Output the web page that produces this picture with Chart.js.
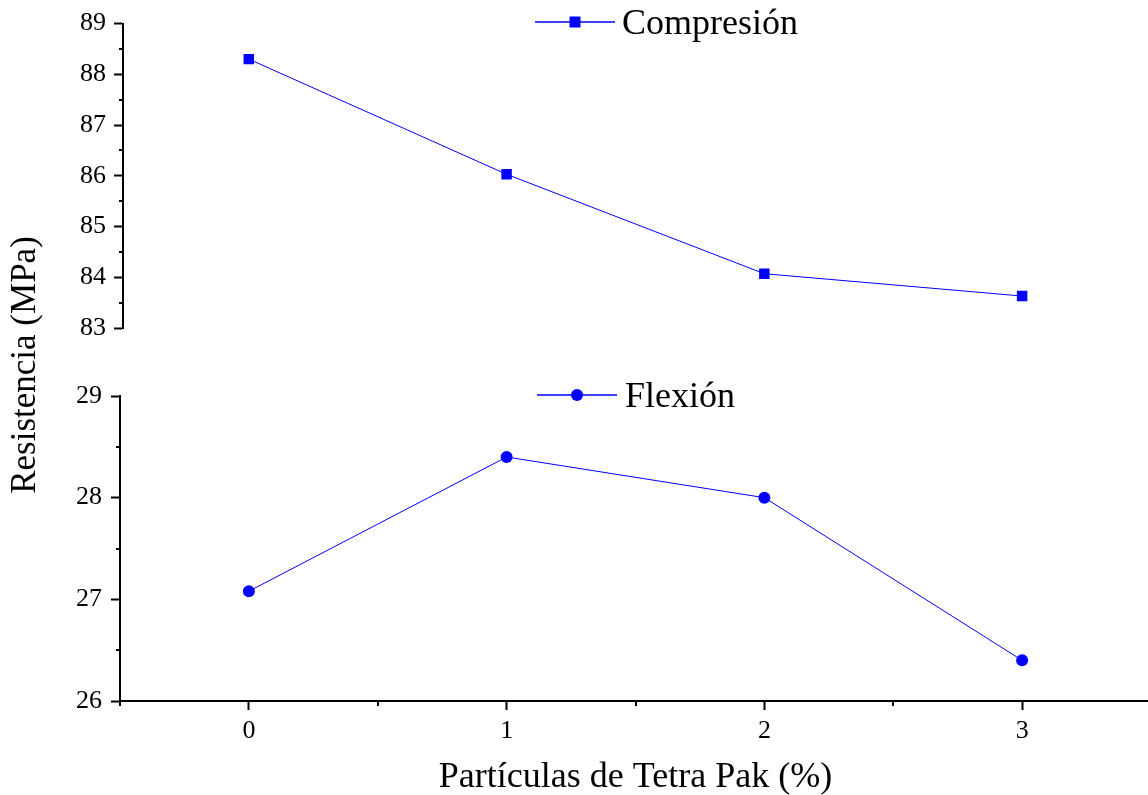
<!DOCTYPE html>
<html><head><meta charset="utf-8">
<script src="https://cdn.jsdelivr.net/npm/chart.js@4"></script>
<style>
html,body{margin:0;padding:0;overflow:hidden;background:#fff;}
#wrap{position:relative;width:1148px;height:795px;overflow:hidden;background:#fff;}
canvas{position:absolute;left:0;top:0;}
</style></head><body>
<div id="wrap">
<canvas id="top" width="1151" height="795"></canvas>
<canvas id="bot" width="1151" height="795"></canvas>
</div>
<script>
// ---- data ----
const particulas = [0, 1, 2, 3];
const compresion = [88.30, 86.03, 84.07, 83.63];
const flexion = [27.08, 28.40, 28.00, 26.40];
const xTicks = [0, 1, 2, 3];
const xMinor = [-0.5, 0.5, 1.5, 2.5, 3.5];
const yTopTicks = [83, 84, 85, 86, 87, 88, 89];
const yTopMinor = [83.5, 84.5, 85.5, 86.5, 87.5, 88.5];
const yBotTicks = [26, 27, 28, 29];
const yBotMinor = [26.5, 27.5, 28.5];

const FONT = 'Liberation Serif';
const BLUE = '#0000ff';

const minorTicks = {
  id: 'minorTicks',
  afterDraw(chart, args, opts) {
    const ctx = chart.ctx;
    ctx.save(); ctx.strokeStyle = '#000'; ctx.lineWidth = 2;
    (opts.list || []).forEach(({axis, values, len}) => {
      const s = chart.scales[axis];
      values.forEach(v => {
        const p = Math.round(s.getPixelForValue(v));
        ctx.beginPath();
        if (s.isHorizontal()) { ctx.moveTo(p, s.top); ctx.lineTo(p, s.top + len); }
        else { ctx.moveTo(s.right, p); ctx.lineTo(s.right - len, p); }
        ctx.stroke();
      });
    });
    ctx.restore();
  }
};

const customLegend = {
  id: 'customLegend',
  afterDraw(chart, args, opts) {
    const ctx = chart.ctx;
    (opts.items || []).forEach(it => {
      ctx.save();
      ctx.strokeStyle = BLUE; ctx.lineWidth = 1.5;
      ctx.beginPath(); ctx.moveTo(it.x1, it.y); ctx.lineTo(it.x2, it.y); ctx.stroke();
      const cx = (it.x1 + it.x2) / 2;
      ctx.fillStyle = BLUE;
      if (it.style === 'rect') { ctx.fillRect(cx - 5.5, it.y - 5.5, 11, 11); }
      else { ctx.beginPath(); ctx.arc(cx, it.y, 6, 0, Math.PI * 2); ctx.fill(); }
      ctx.fillStyle = '#000';
      ctx.font = '36px "' + FONT + '"';
      ctx.textBaseline = 'middle'; ctx.textAlign = 'left';
      ctx.fillText(it.text, it.tx, it.y + 3);
      ctx.restore();
    });
  }
};

const yTitle = {
  id: 'yTitle',
  afterDraw(chart, args, opts) {
    if (!opts.text) return;
    const ctx = chart.ctx;
    ctx.save();
    ctx.translate(opts.x, opts.y);
    ctx.rotate(-Math.PI / 2);
    ctx.fillStyle = '#000';
    ctx.font = '35px "' + FONT + '"';
    ctx.textAlign = 'center'; ctx.textBaseline = 'middle';
    ctx.fillText(opts.text, 0, 0);
    ctx.restore();
  }
};

function yAxis(min, max, ticksArr, width, pad) {
  return {
    type: 'linear', position: 'left', min, max,
    afterBuildTicks: s => { s.ticks = ticksArr.map(v => ({value: v})); },
    afterFit: s => { s.width = width; },
    grid: {drawOnChartArea: false, drawTicks: true, tickLength: 9, tickWidth: 2, tickColor: '#000'},
    border: {display: true, color: '#000', width: 2},
    ticks: {color: '#000', font: {family: FONT, size: 26}, padding: pad}
  };
}

new Chart(document.getElementById('top'), {
  type: 'line',
  data: {
    datasets: [{
      label: 'Compresión',
      data: particulas.map((x, i) => ({x, y: compresion[i]})),
      borderColor: BLUE, backgroundColor: BLUE, borderWidth: 1,
      pointStyle: 'rect', pointRadius: 7.4, pointBorderWidth: 0,
      pointBackgroundColor: BLUE, tension: 0
    }]
  },
  options: {
    responsive: false, animation: false, devicePixelRatio: 1,
    layout: {autoPadding: false, padding: {left: 0, right: 0, top: 23, bottom: 795 - 328}},
    plugins: {
      legend: {display: false}, tooltip: {enabled: false},
      minorTicks: {list: [{axis: 'y', values: yTopMinor, len: 4}]},
      customLegend: {items: [{text: 'Compresión', style: 'rect', x1: 535, x2: 615, y: 22, tx: 622}]}
    },
    scales: {
      x: {type: 'linear', display: false, min: -0.488, max: 3.5},
      y: yAxis(83, 89, yTopTicks, 123, 8)
    }
  },
  plugins: [minorTicks, customLegend]
});

new Chart(document.getElementById('bot'), {
  type: 'line',
  data: {
    datasets: [{
      label: 'Flexión',
      data: particulas.map((x, i) => ({x, y: flexion[i]})),
      borderColor: BLUE, backgroundColor: BLUE, borderWidth: 1,
      pointStyle: 'circle', pointRadius: 6, pointBorderWidth: 0,
      pointBackgroundColor: BLUE, tension: 0
    }]
  },
  options: {
    responsive: false, animation: false, devicePixelRatio: 1,
    layout: {autoPadding: false, padding: {left: 0, right: 0, top: 396, bottom: 0}},
    plugins: {
      legend: {display: false}, tooltip: {enabled: false},
      minorTicks: {list: [{axis: 'y', values: yBotMinor, len: 4}, {axis: 'x', values: xMinor, len: 5}]},
      customLegend: {items: [{text: 'Flexión', style: 'circle', x1: 537, x2: 617, y: 395, tx: 625}]},
      yTitle: {text: 'Resistencia (MPa)', x: 26, y: 365}
    },
    scales: {
      x: {
        type: 'linear', position: 'bottom', min: -0.5, max: 3.5,
        afterBuildTicks: s => { s.ticks = xTicks.map(v => ({value: v})); },
        afterFit: s => { s.height = 94; },
        grid: {drawOnChartArea: false, drawTicks: true, tickLength: 9, tickWidth: 2, tickColor: '#000'},
        border: {display: true, color: '#000', width: 2},
        ticks: {color: '#000', font: {family: FONT, size: 26}, padding: 6, maxRotation: 0},
        title: {display: true, text: 'Partículas de Tetra Pak (%)', color: '#000',
                font: {family: FONT, size: 36, lineHeight: 1}, padding: {top: 0, bottom: -1}}
      },
      y: yAxis(26, 29, yBotTicks, 120, 9)
    }
  },
  plugins: [minorTicks, customLegend, yTitle]
});
</script>
</body></html>
